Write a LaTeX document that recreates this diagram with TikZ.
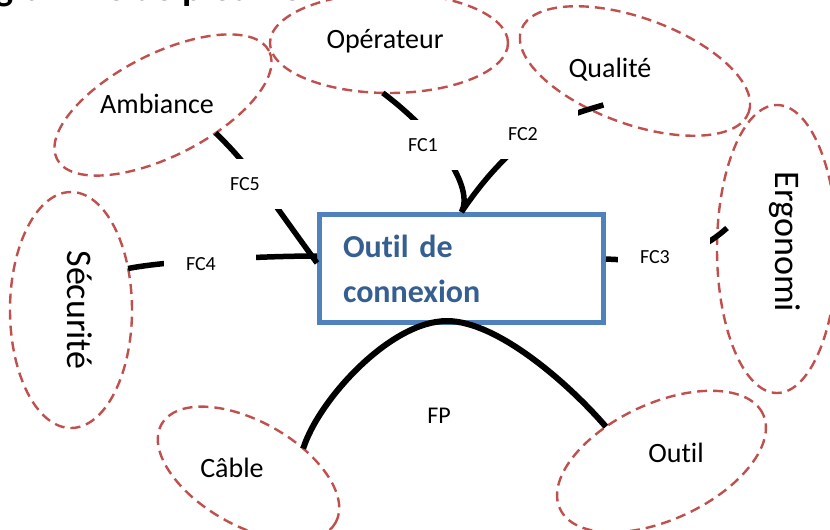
\documentclass[tikz,border=0pt]{standalone}
\usepackage{fontspec}
\setmainfont{Carlito}[Ligatures=NoCommon]
\usepackage{xcolor}
\usepackage{tikz}
\usetikzlibrary{shapes.geometric}

\definecolor{halored}{HTML}{C0504D}
\definecolor{boxblue}{HTML}{4F81BD}
\definecolor{boxtext}{HTML}{365F91}

\begin{document}
\begin{tikzpicture}[
  x=1pt, y=-1pt,
  halo/.style={ellipse, draw=halored, line width=2.4pt,
               dash pattern=on 10pt off 6pt, inner sep=0pt, outer sep=0pt},
  cnxbox/.style={rectangle, draw=boxblue, line width=5pt, fill=white,
                 minimum width=284pt, minimum height=108pt, text width=237pt,
                 inner xsep=23.5pt, outer sep=2.5pt, align=left, text=boxtext,
                 font=\fontsize{32}{45}\selectfont\bfseries},
  conn/.style={line width=5.5pt, black},
  fclbl/.style={rectangle, fill=white, minimum width=92pt, minimum height=50pt,
                text width=48pt, inner xsep=22pt, inner ysep=0pt, align=left,
                font=\fontsize{20}{24}\selectfont},
  lbl/.style={anchor=base, inner sep=0pt, font=\fontsize{28}{34}\selectfont},
  vlbl/.style={anchor=base, inner sep=0pt, rotate=-90,
               font=\fontsize{36}{43}\selectfont}
]
\useasboundingbox (0,0) rectangle (830,530);

%% Title (cut by the top edge)
\node[anchor=base west, inner sep=0pt, font=\fontsize{38}{44}\selectfont\bfseries]
  (titre) at (-57,0.5) {Diagramme de pieuvre};

%% Surrounding elements
\node[halo, minimum width=238pt, minimum height=100pt] (operateur) at (389,43) {};
\node[halo, minimum width=242pt, minimum height=106pt, rotate=-20] (qualite) at (635,71) {};
\node[halo, minimum width=238pt, minimum height=102pt, rotate=27] (ambiance) at (163,105) {};
\node[halo, minimum width=122pt, minimum height=236pt] (securite) at (71,310) {};
\node[halo, minimum width=120pt, minimum height=288pt] (ergonomie) at (777,249) {};
\node[halo, minimum width=200pt, minimum height=104pt, rotate=-29.5] (cable) at (248.5,473.5) {};
\node[halo, minimum width=224pt, minimum height=116pt, rotate=25] (outil) at (661.5,461.5) {};

%% Product
\node[cnxbox] (cnx) at (461.5,268.5) {Outil de\\connexion};

%% Constraint functions
\draw[conn] (operateur.-97) .. controls +(57,43) and +(12.5,-24.5) .. (cnx.north);
\draw[conn] ([shift={(8,-7)}]qualite.-114) .. controls +(-38,11) and +(56.5,-83.5) .. (cnx.north);
\draw[conn] ([shift={(10,-21)}]ergonomie.west) .. controls +(-40,36) and +(40,2) .. ([yshift=9.5pt]cnx.east);
\draw[conn] (securite.36) .. controls +(40,-8) and +(-50,0) .. ([yshift=12.5pt]cnx.west);
\draw[conn] (ambiance.-55) .. controls +(34,33) and +(-57,-78) .. ([yshift=5.5pt]cnx.west);

\node[fclbl] (fc1) at (432,145) {FC1};
\node[fclbl] (fc2) at (532,134) {FC2};
\node[fclbl] (fc3) at (664,257) {FC3};
\node[fclbl] (fc4) at (210,264.5) {FC4};
\node[fclbl] (fc5) at (254,184) {FC5};

%% Main function
\draw[conn, line width=6pt] (cable.54) .. controls +(15,-48) and +(-57,0) ..
  ([xshift=-14.5pt, yshift=4pt]cnx.south) .. controls +(50,0) and +(-38,-44) .. (outil.123);
\node[lbl, font=\fontsize{24}{29}\selectfont] (fp) at (439,423) {FP};

%% Element names
\node[lbl] (t-operateur) at (385,48) {Opérateur};
\node[lbl] (t-qualite) at (610,77) {Qualité};
\node[lbl] (t-ambiance) at (157,113) {Ambiance};
\node[lbl] (t-cable) at (232,477) {Câble};
\node[lbl] (t-outil) at (676,462) {Outil};
\node[vlbl] (t-securite) at (67,310) {Sécurité};
\node[vlbl] (t-ergonomie) at (775,242) {Ergonomi};

\end{tikzpicture}
\end{document}
